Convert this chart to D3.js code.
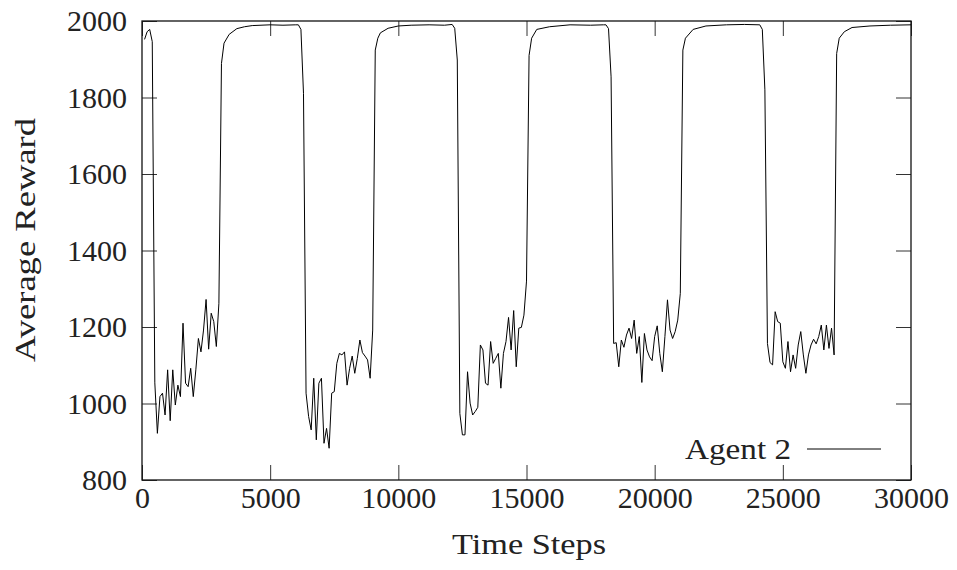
<!DOCTYPE html>
<html>
<head>
<meta charset="utf-8">
<script src="https://cdn.jsdelivr.net/npm/d3@7"></script>
<style>
  body { margin: 0; background: #fff; }
  svg { display: block; }
  text { font-family: "Liberation Serif", "DejaVu Serif", serif; fill: #222; }
</style>
</head>
<body>
<svg id="chart" width="957" height="570"></svg>
<script>
// time step of each sample
var timeSteps = [
  100, 200, 300, 400, 500, 600, 700, 800, 900, 1000,
  1100, 1200, 1300, 1400, 1500, 1600, 1700, 1800, 1900, 2000,
  2100, 2200, 2300, 2400, 2500, 2600, 2700, 2800, 2900, 3000,
  3100, 3200, 3400, 3700, 4000, 4300, 5000, 5500, 6000, 6100,
  6200, 6300, 6400, 6500, 6600, 6700, 6800, 6900, 7000, 7100,
  7200, 7300, 7400, 7500, 7600, 7700, 7800, 7900, 8000, 8100,
  8200, 8300, 8400, 8500, 8600, 8700, 8800, 8900, 9000, 9100,
  9200, 9300, 9600, 10000, 10500, 11200, 11800, 12100, 12200, 12300,
  12400, 12500, 12600, 12700, 12800, 12900, 13000, 13100, 13200, 13300,
  13400, 13500, 13600, 13700, 13800, 13900, 14000, 14100, 14200, 14300,
  14400, 14500, 14600, 14700, 14800, 14900, 15000, 15100, 15200, 15400,
  15900, 16700, 17500, 18000, 18100, 18200, 18300, 18400, 18500, 18600,
  18700, 18800, 18900, 19000, 19100, 19200, 19300, 19400, 19500, 19600,
  19700, 19800, 19900, 20000, 20100, 20200, 20300, 20400, 20500, 20600,
  20700, 20800, 20900, 21000, 21100, 21200, 21500, 22000, 22800, 23500,
  24100, 24200, 24300, 24400, 24500, 24600, 24700, 24800, 24900, 25000,
  25100, 25200, 25300, 25400, 25500, 25600, 25700, 25800, 25900, 26000,
  26100, 26200, 26300, 26400, 26500, 26600, 26700, 26800, 26900, 27000,
  27100, 27200, 27400, 27700, 28400, 29200, 30000
];

// Agent 2 average reward
var agent2 = [
  1952, 1972, 1978, 1946, 1054, 922, 1018, 1027, 970, 1088,
  955, 1088, 996, 1048, 1018, 1210, 1053, 1044, 1092, 1018,
  1088, 1170, 1135, 1192, 1272, 1142, 1236, 1214, 1149, 1262,
  1889, 1942, 1965, 1980, 1985, 1988, 1990, 1989, 1990, 1990,
  1978, 1811, 1027, 966, 931, 1066, 905, 1053, 1066, 896,
  935, 883, 1027, 1031, 1105, 1131, 1127, 1135, 1048, 1092,
  1124, 1079, 1118, 1166, 1133, 1124, 1114, 1066, 1192, 1924,
  1955, 1969, 1981, 1987, 1989, 1990, 1989, 1991, 1981, 1898,
  974, 918, 918, 1083, 1001, 970, 979, 990, 1153, 1140,
  1053, 1048, 1162, 1105, 1118, 1131, 1040, 1131, 1162, 1225,
  1140, 1243, 1096, 1197, 1199, 1231, 1320, 1910, 1955, 1978,
  1985, 1990, 1989, 1990, 1990, 1980, 1854, 1157, 1159, 1096,
  1166, 1147, 1179, 1197, 1170, 1218, 1131, 1175, 1055, 1183,
  1140, 1122, 1112, 1175, 1203, 1131, 1083, 1175, 1271, 1192,
  1170, 1188, 1218, 1288, 1924, 1955, 1978, 1987, 1990, 1991,
  1990, 1978, 1820, 1157, 1107, 1101, 1240, 1214, 1210, 1109,
  1092, 1162, 1083, 1127, 1092, 1153, 1188, 1127, 1079, 1127,
  1153, 1168, 1156, 1175, 1205, 1140, 1205, 1144, 1197, 1127,
  1915, 1955, 1972, 1983, 1987, 1989, 1990
];

var xTicks = [0, 5000, 10000, 15000, 20000, 25000, 30000];
var yTicks = [800, 1000, 1200, 1400, 1600, 1800, 2000];

var margin = {top: 21, right: 46, bottom: 90, left: 142};
var width = 957 - margin.left - margin.right,
    height = 570 - margin.top - margin.bottom;

var svg = d3.select("#chart");
var g = svg.append("g")
    .attr("transform", "translate(" + margin.left + "," + margin.top + ")");

var x = d3.scaleLinear().domain([0, 30000]).range([0, width]);
var y = d3.scaleLinear().domain([800, 2000]).range([height, 0]);

var tickLen = 15;

// bottom + left with labels, ticks pointing inwards
g.append("g")
    .attr("transform", "translate(0," + height + ")")
    .call(d3.axisBottom(x).tickValues(xTicks).tickSizeInner(-tickLen).tickSizeOuter(0).tickPadding(7).tickFormat(d3.format("d")));
g.append("g")
    .call(d3.axisLeft(y).tickValues(yTicks).tickSizeInner(-tickLen).tickSizeOuter(0).tickPadding(15).tickFormat(d3.format("d")));

// mirrored ticks on top and right
g.append("g")
    .call(d3.axisTop(x).tickValues(xTicks).tickSizeInner(-tickLen).tickSizeOuter(0).tickFormat(""));
g.append("g")
    .attr("transform", "translate(" + width + ",0)")
    .call(d3.axisRight(y).tickValues(yTicks).tickSizeInner(-tickLen).tickSizeOuter(0).tickFormat(""));

g.selectAll(".domain").remove();
g.selectAll(".tick line").attr("stroke", "#333").attr("stroke-width", 1);
g.selectAll(".tick text").attr("font-size", 30).attr("font-family", "Liberation Serif").attr("fill", "#222");

// frame
g.append("rect")
    .attr("width", width).attr("height", height)
    .attr("fill", "none").attr("stroke", "#111").attr("stroke-width", 1.3);

var line = d3.line()
    .x(function(d, i) { return x(timeSteps[i]); })
    .y(function(d) { return y(d); });

g.append("path")
    .datum(agent2)
    .attr("d", line)
    .attr("fill", "none")
    .attr("stroke", "#000")
    .attr("stroke-width", 1)
    .attr("stroke-linejoin", "round");

// legend
var legend = g.append("g").attr("transform", "translate(" + (width - 30) + "," + (height - 31) + ")");
legend.append("line")
    .attr("x1", -74).attr("x2", 0)
    .attr("y1", 0).attr("y2", 0)
    .attr("stroke", "#000").attr("stroke-width", 1);
legend.append("text")
    .attr("x", -196).attr("y", 10)
    .attr("font-size", 30)
    .attr("textLength", 106)
    .attr("lengthAdjust", "spacingAndGlyphs")
    .text("Agent 2");

// axis titles
svg.append("text")
    .attr("x", 452)
    .attr("y", 554)
    .attr("font-size", 30)
    .attr("textLength", 154)
    .attr("lengthAdjust", "spacingAndGlyphs")
    .text("Time Steps");

svg.append("text")
    .attr("transform", "translate(35,362) rotate(-90)")
    .attr("font-size", 30)
    .attr("textLength", 244)
    .attr("lengthAdjust", "spacingAndGlyphs")
    .text("Average Reward");
</script>
</body>
</html>
